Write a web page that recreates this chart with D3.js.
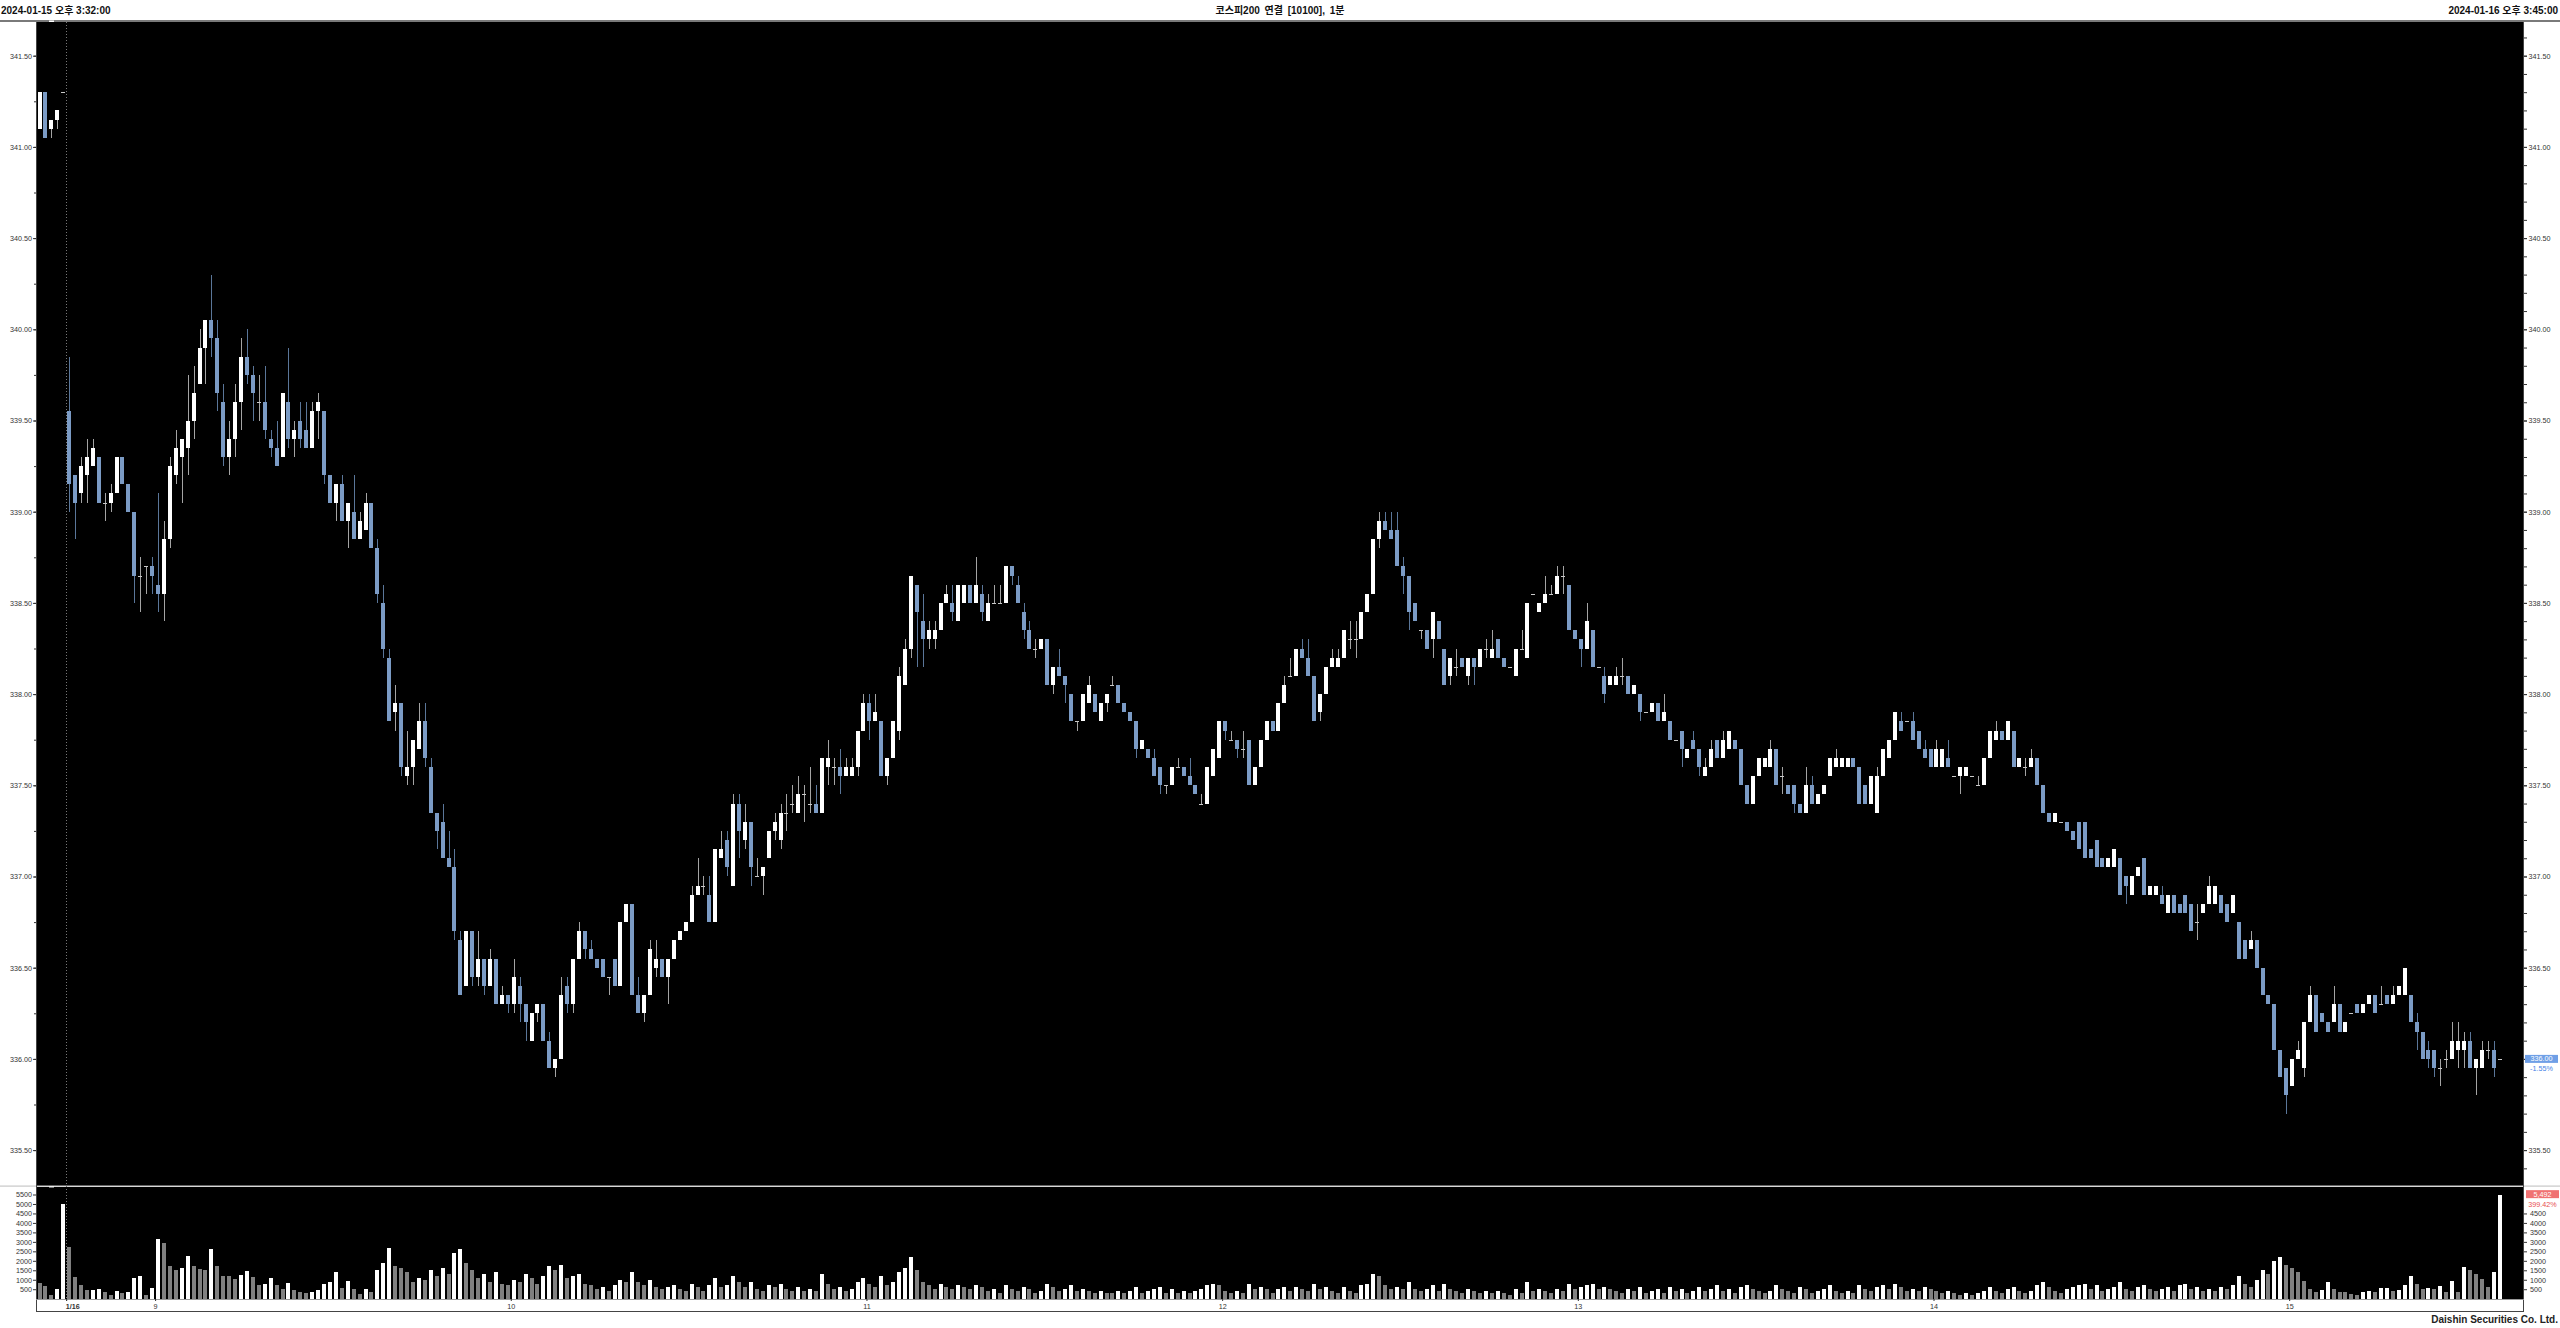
<!DOCTYPE html>
<html><head><meta charset="utf-8">
<script src="https://cdn.jsdelivr.net/npm/d3@7"></script>
<style>html,body{margin:0;padding:0;background:#fff;overflow:hidden}svg{display:block}</style>
</head><body>
<svg id="c" width="2560" height="1328"></svg>
<script>
// ---------------- DATA ----------------
// bars 0-4: 2024-01-15 15:3x ; bars 5.. : 2024-01-16 08:45 onward (1-minute)
const opens = [
341.1,341.3,341.1,341.15,341.3,
339.55,339.2,339.1,339.2,339.25,339.3,339.05,339.05,339.1,339.3,
339.15,339,338.65,338.7,338.7,338.6,338.55,338.85,339.2,339.3,
339.35,339.5,339.7,339.9,340.05,339.95,339.6,339.3,339.4,339.6,
339.85,339.75,339.6,339.6,339.4,339.35,339.3,339.6,339.4,339.5,
339.45,339.35,339.55,339.55,339.2,339.05,339.15,338.95,339,338.85,
338.9,339.05,338.8,338.5,338.2,337.9,337.95,337.55,337.6,337.7,
337.85,337.6,337.35,337.3,337.1,337.05,336.65,336.4,336.7,336.45,
336.55,336.4,336.55,336.3,336.35,336.3,336.4,336.3,336.1,336.25,
336.3,336.1,335.95,336,336.4,336.3,336.55,336.7,336.6,336.55,
336.55,336.45,336.55,336.4,336.75,336.85,336.35,336.25,336.35,336.5,
336.55,336.45,336.55,336.65,336.7,336.75,336.9,336.95,336.9,336.75,
337.1,337.2,336.95,337.4,337.2,337.3,337,337,337.1,337.25,
337.2,337.35,337.4,337.35,337.45,337.4,337.4,337.35,337.6,337.6,
337.6,337.55,337.55,337.6,337.8,337.95,337.85,337.85,337.55,337.65,
337.8,338.05,338.25,338.6,338.4,338.3,338.3,338.35,338.5,338.5,
338.4,338.5,338.6,338.5,338.55,338.4,338.5,338.5,338.5,338.7,
338.6,338.45,338.35,338.25,338.25,338.3,338.05,338.15,338.1,338,
337.85,337.85,337.95,338,337.85,337.95,338.05,338.05,337.95,337.9,
337.85,337.7,337.7,337.65,337.6,337.5,337.5,337.6,337.6,337.55,
337.5,337.4,337.4,337.55,337.65,337.85,337.75,337.75,337.7,337.75,
337.5,337.6,337.75,337.85,337.8,337.95,338.1,338.1,338.25,338.2,
338.1,337.9,338,338.15,338.15,338.2,338.3,338.3,338.3,338.45,
338.55,338.85,338.95,338.9,338.9,338.7,338.65,338.5,338.35,338.35,
338.3,338.4,338.25,338.1,338.15,338.2,338.1,338.2,338.15,338.25,
338.2,338.3,338.2,338.15,338.1,338.25,338.2,338.55,338.45,338.5,
338.55,338.55,338.65,338.6,338.35,338.3,338.25,338.35,338.15,338.1,
338.05,338.05,338.1,338.1,338,338,337.9,337.9,337.95,337.85,
337.85,337.75,337.8,337.65,337.75,337.7,337.55,337.6,337.75,337.65,
337.7,337.75,337.7,337.5,337.4,337.55,337.6,337.6,337.7,337.55,
337.5,337.5,337.4,337.35,337.5,337.4,337.45,337.55,337.6,337.6,
337.6,337.65,337.6,337.5,337.4,337.35,337.55,337.65,337.75,337.85,
337.85,337.85,337.8,337.7,337.7,337.6,337.6,337.65,337.55,337.55,
337.55,337.55,337.5,337.5,337.65,337.75,337.8,337.75,337.8,337.6,
337.6,337.6,337.65,337.5,337.35,337.3,337.3,337.3,337.25,337.3,
337.3,337.15,337.2,337.1,337.05,337.05,337.1,337,336.9,337,
337.1,336.9,336.9,336.9,336.8,336.9,336.85,336.9,336.85,336.75,
336.8,336.85,336.85,336.9,336.85,336.8,336.75,336.65,336.6,336.65,
336.5,336.35,336.3,336.05,335.95,335.85,336,335.95,336.2,336.35,
336.25,336.2,336.2,336.3,336.15,336.25,336.3,336.25,336.3,336.35,
336.3,336.35,336.3,336.35,336.35,336.35,336.2,336.15,336.05,336.05,
335.95,336,336,336.05,336.05,336.1,335.95,335.95,336.05,336.05,336
];
const highs = [
341.3,341.3,341.15,341.2,341.3,
339.85,339.2,339.3,339.4,339.4,339.3,339.1,339.15,339.3,339.3,
339.15,339,338.75,338.7,338.75,339.1,338.95,339.3,339.45,339.4,
339.75,339.8,340,340.05,340.3,340.05,339.7,339.5,339.7,339.95,
340,339.8,339.75,339.8,339.45,339.5,339.65,339.9,339.5,339.6,
339.6,339.6,339.65,339.55,339.2,339.15,339.2,339.05,339.2,339,
339.1,339.05,338.85,338.6,338.25,338.05,337.95,337.8,337.75,337.95,
337.95,337.65,337.35,337.4,337.25,337.15,336.7,336.7,336.7,336.7,
336.55,336.6,336.55,336.4,336.35,336.55,336.45,336.3,336.25,336.3,
336.3,336.15,336,336.45,336.45,336.55,336.75,336.7,336.65,336.55,
336.55,336.45,336.55,336.75,336.85,336.85,336.45,336.35,336.65,336.65,
336.55,336.55,336.65,336.7,336.75,336.95,337.1,337,337,337.15,
337.25,337.25,337.45,337.45,337.4,337.3,337.1,337.05,337.25,337.35,
337.4,337.45,337.5,337.55,337.5,337.6,337.5,337.65,337.75,337.65,
337.7,337.65,337.65,337.8,338,338,338,337.85,337.65,337.85,
338.15,338.3,338.65,338.6,338.55,338.4,338.4,338.5,338.6,338.6,
338.6,338.6,338.6,338.75,338.6,338.55,338.6,338.6,338.7,338.7,
338.65,338.5,338.4,338.3,338.3,338.3,338.15,338.25,338.1,338,
337.85,338,338.1,338,337.95,338,338.1,338.05,337.95,337.9,
337.85,337.75,337.7,337.7,337.6,337.5,337.6,337.65,337.6,337.65,
337.5,337.45,337.6,337.7,337.85,337.85,337.8,337.75,337.8,337.75,
337.6,337.75,337.85,337.85,337.95,338.1,338.2,338.25,338.3,338.3,
338.1,338,338.15,338.25,338.25,338.35,338.4,338.4,338.45,338.55,
338.85,339,339,339,339,338.75,338.65,338.5,338.35,338.35,
338.45,338.4,338.25,338.2,338.25,338.2,338.2,338.2,338.25,338.3,
338.35,338.3,338.2,338.15,338.25,338.35,338.5,338.55,338.5,338.65,
338.6,338.7,338.7,338.6,338.35,338.3,338.5,338.35,338.15,338.15,
338.1,338.15,338.2,338.1,338.05,338,337.9,337.95,337.95,338,
337.85,337.75,337.8,337.7,337.8,337.7,337.65,337.75,337.75,337.8,
337.8,337.75,337.7,337.5,337.55,337.65,337.65,337.75,337.7,337.6,
337.5,337.5,337.4,337.6,337.55,337.45,337.5,337.65,337.7,337.65,
337.65,337.65,337.6,337.5,337.55,337.6,337.7,337.75,337.9,337.9,
337.85,337.9,337.8,337.75,337.7,337.75,337.7,337.75,337.55,337.6,
337.6,337.55,337.55,337.65,337.8,337.85,337.8,337.85,337.8,337.65,
337.65,337.7,337.65,337.5,337.35,337.35,337.3,337.3,337.25,337.3,
337.3,337.15,337.2,337.1,337.1,337.15,337.1,337,337,337.05,
337.1,336.95,336.95,336.95,336.9,336.9,336.85,336.9,336.85,336.85,
336.85,337,336.95,336.9,336.85,336.9,336.75,336.65,336.7,336.65,
336.5,336.35,336.3,336.05,335.95,336,336.1,336.2,336.4,336.35,
336.25,336.2,336.4,336.3,336.2,336.25,336.3,336.3,336.35,336.35,
336.4,336.35,336.4,336.4,336.5,336.35,336.25,336.15,336.1,336.05,
336,336.05,336.2,336.2,336.15,336.15,336,336.1,336.1,336.1,336
];
const lows = [
341.1,341.05,341.05,341.1,341.3,
339,338.85,339.05,339.05,339.25,339.05,338.95,339,339.1,339.15,
339,338.5,338.45,338.55,338.55,338.45,338.4,338.8,339.15,339.05,
339.2,339.4,339.7,339.7,339.85,339.55,339.25,339.2,339.3,339.45,
339.7,339.5,339.5,339.4,339.3,339.25,339.3,339.35,339.3,339.35,
339.35,339.35,339.4,339.15,339.05,338.95,338.95,338.8,338.85,338.85,
338.9,338.8,338.5,338.2,337.85,337.8,337.55,337.5,337.5,337.7,
337.6,337.35,337.15,337.1,337.05,336.65,336.35,336.4,336.4,336.4,
336.35,336.4,336.3,336.3,336.25,336.25,336.2,336.1,336.1,336.2,
336.1,335.95,335.9,336,336.25,336.25,336.55,336.55,336.55,336.5,
336.45,336.35,336.4,336.4,336.75,336.35,336.25,336.2,336.35,336.45,
336.45,336.3,336.55,336.65,336.7,336.75,336.9,336.9,336.75,336.75,
337.1,337,336.95,337.1,337.15,336.95,337,336.9,337.1,337.2,
337.15,337.25,337.35,337.35,337.3,337.35,337.35,337.35,337.5,337.5,
337.45,337.55,337.55,337.55,337.8,337.75,337.85,337.55,337.5,337.65,
337.75,338.05,338.2,338.15,338.15,338.25,338.25,338.35,338.5,338.4,
338.4,338.5,338.5,338.5,338.4,338.4,338.5,338.5,338.5,338.6,
338.5,338.3,338.25,338.2,338.25,338.05,338,338.1,337.95,337.85,
337.8,337.85,337.95,337.9,337.85,337.9,338.05,337.95,337.9,337.85,
337.65,337.7,337.65,337.55,337.45,337.45,337.5,337.6,337.55,337.5,
337.45,337.4,337.4,337.55,337.65,337.75,337.75,337.65,337.65,337.5,
337.5,337.6,337.75,337.8,337.8,337.95,338.1,338.1,338.2,338.1,
337.85,337.85,338,338.15,338.15,338.2,338.25,338.2,338.3,338.45,
338.55,338.8,338.9,338.85,338.7,338.55,338.35,338.4,338.3,338.25,
338.2,338.3,338.05,338.05,338.1,338.15,338.05,338.05,338.15,338.2,
338.2,338.2,338.15,338.15,338.1,338.25,338.2,338.55,338.45,338.5,
338.55,338.55,338.55,338.35,338.3,338.15,338.25,338.15,338.15,337.95,
338.05,338.05,338.05,338,338,337.85,337.9,337.9,337.85,337.85,
337.75,337.75,337.6,337.65,337.7,337.55,337.55,337.6,337.65,337.65,
337.7,337.7,337.5,337.4,337.4,337.55,337.6,337.6,337.5,337.45,
337.45,337.35,337.35,337.35,337.4,337.4,337.45,337.55,337.6,337.6,
337.6,337.6,337.4,337.4,337.4,337.35,337.55,337.65,337.75,337.8,
337.85,337.75,337.7,337.65,337.6,337.6,337.6,337.6,337.55,337.45,
337.55,337.55,337.5,337.5,337.65,337.75,337.75,337.75,337.6,337.6,
337.55,337.6,337.5,337.35,337.3,337.3,337.3,337.25,337.2,337.15,
337.1,337.1,337.05,337.05,337.05,337.05,336.9,336.85,336.9,337,
336.9,336.9,336.9,336.85,336.8,336.8,336.8,336.8,336.7,336.65,
336.8,336.85,336.85,336.8,336.75,336.8,336.55,336.55,336.6,336.5,
336.35,336.3,336.05,335.9,335.7,335.85,336,335.9,336.2,336.15,
336.2,336.15,336.2,336.15,336.15,336.25,336.25,336.25,336.3,336.25,
336.3,336.3,336.3,336.35,336.35,336.2,336.05,336,335.95,335.9,
335.85,335.95,336,335.95,335.95,335.95,335.8,335.95,336,335.9,336
];
const closes = [
341.3,341.05,341.15,341.2,341.3,
339.15,339.05,339.25,339.3,339.35,339.05,339.05,339.1,339.3,339.15,
339,338.65,338.65,338.7,338.65,338.55,338.85,339.25,339.35,339.4,
339.5,339.65,339.9,340.05,339.95,339.65,339.3,339.4,339.6,339.85,
339.75,339.65,339.6,339.45,339.35,339.25,339.65,339.4,339.45,339.4,
339.35,339.55,339.6,339.2,339.05,339.15,338.95,339.05,338.85,338.95,
339.05,338.8,338.55,338.25,337.85,337.95,337.6,337.6,337.75,337.85,
337.65,337.35,337.25,337.1,337.05,336.7,336.35,336.7,336.45,336.55,
336.4,336.55,336.3,336.35,336.3,336.45,336.3,336.2,336.25,336.3,
336.1,335.95,336,336.35,336.3,336.55,336.7,336.6,336.55,336.5,
336.45,336.45,336.4,336.75,336.85,336.35,336.25,336.35,336.6,336.55,
336.45,336.55,336.65,336.7,336.75,336.9,336.95,336.95,336.75,337.15,
337.15,337.05,337.4,337.25,337.3,337.05,337,337.05,337.25,337.3,
337.35,337.35,337.4,337.45,337.45,337.4,337.35,337.65,337.65,337.6,
337.55,337.6,337.6,337.8,337.95,337.85,337.9,337.55,337.65,337.85,
338.1,338.25,338.65,338.45,338.3,338.35,338.35,338.5,338.55,338.45,
338.6,338.6,338.5,338.6,338.45,338.5,338.5,338.5,338.7,338.65,
338.5,338.35,338.25,338.25,338.3,338.05,338.15,338.1,338.05,337.85,
337.85,338,338.05,337.9,337.95,338,338.05,337.95,337.9,337.85,
337.7,337.75,337.65,337.55,337.5,337.5,337.6,337.6,337.55,337.5,
337.45,337.4,337.6,337.7,337.85,337.8,337.75,337.7,337.7,337.5,
337.6,337.75,337.85,337.8,337.95,338.05,338.1,338.25,338.2,338.1,
337.85,338,338.15,338.2,338.2,338.35,338.3,338.3,338.45,338.55,
338.85,338.95,338.9,338.85,338.7,338.65,338.45,338.4,338.35,338.25,
338.45,338.3,338.05,338.2,338.15,338.15,338.2,338.15,338.25,338.25,
338.25,338.2,338.15,338.15,338.25,338.25,338.5,338.55,338.5,338.55,
338.55,338.65,338.65,338.35,338.3,338.25,338.4,338.15,338.15,338,
338.1,338.1,338.1,338,338.05,337.9,337.9,337.95,337.85,337.9,
337.75,337.75,337.7,337.7,337.7,337.6,337.6,337.7,337.65,337.75,
337.8,337.7,337.5,337.4,337.55,337.65,337.65,337.7,337.5,337.55,
337.45,337.4,337.35,337.5,337.4,337.45,337.5,337.65,337.65,337.65,
337.65,337.6,337.4,337.4,337.55,337.55,337.7,337.75,337.9,337.8,
337.85,337.75,337.7,337.65,337.6,337.7,337.7,337.6,337.55,337.6,
337.6,337.55,337.5,337.65,337.8,337.8,337.75,337.85,337.6,337.65,
337.6,337.65,337.5,337.35,337.3,337.35,337.3,337.25,337.2,337.15,
337.1,337.1,337.05,337.05,337.1,337.15,336.9,336.95,337,337.05,
336.9,336.95,336.95,336.85,336.9,336.8,336.8,336.8,336.7,336.75,
336.85,336.95,336.95,336.8,336.75,336.9,336.55,336.55,336.65,336.5,
336.35,336.3,336.05,335.9,335.8,336,336.05,336.2,336.35,336.15,
336.2,336.15,336.3,336.15,336.2,336.25,336.25,336.3,336.35,336.25,
336.3,336.3,336.35,336.4,336.5,336.2,336.15,336,336,335.95,
335.95,336,336.1,336.1,336.1,335.95,336,336.05,336.05,335.95,336
];
const volumes = [
850,650,180,500,5000,
2750,1120,720,460,470,500,360,170,420,300,340,1080,1180,220,580,
3150,2950,1700,1500,1620,2280,1700,1550,1520,2600,1750,1180,1180,1040,1230,1440,1150,700,800,1100,720,500,830,470,350,280,330,440,780,870,1420,550,950,500,270,520,360,1500,1880,2650,1700,1600,
1400,900,1100,1000,1500,1200,1600,1300,2400,2600,1900,1500,1100,1300,900,1400,800,700,1000,900,1300,1100,800,1200,
1700,1500,1800,1100,1200,1300,800,700,500,600,400,700,1000,900,1400,900,700,1000,600,500,
600,700,500,400,800,600,400,700,1100,600,700,1200,900,600,900,500,400,700,600,800,
500,400,600,400,500,400,1300,800,500,600,400,500,900,1100,800,600,1200,700,900,1400,
1600,2200,1500,900,700,500,800,600,500,700,600,500,700,600,400,500,300,700,500,400,
600,500,300,400,800,600,400,500,700,400,500,400,300,400,300,300,400,300,400,600,
300,400,500,600,300,500,300,400,300,400,500,700,800,700,400,300,400,300,800,500,
600,500,300,500,600,400,600,500,400,800,500,600,400,300,600,400,300,700,800,1300,
1200,700,500,600,500,900,500,400,500,700,400,800,500,400,300,500,400,300,400,300,
400,300,200,500,300,900,400,500,400,300,500,400,800,500,600,700,800,500,600,500,
400,300,500,400,600,300,400,500,300,600,400,500,300,400,600,400,500,700,400,500,
300,600,700,500,400,300,400,700,500,400,300,600,500,300,400,500,700,400,300,400,
300,700,500,400,600,700,500,800,600,400,500,400,600,500,400,300,400,300,200,300,
200,300,400,600,400,300,500,600,400,300,400,700,900,600,400,300,500,600,700,800,
500,700,400,500,600,900,500,400,600,700,500,400,500,600,400,700,800,500,600,400,
500,400,600,500,700,1200,800,600,1000,1500,1300,2000,2200,1800,1600,1400,
950,500,330,480,870,500,350,330,260,200,370,420,350,560,580,400,440,730,1180,770,500,580,530,650,350,950,380,1650,1500,1320,1050,620,1420,5492
];
const priceTicks = [335.5,336,336.5,337,337.5,338,338.5,339,339.5,340,340.5,341,341.5];
const volumeTicks = [500,1000,1500,2000,2500,3000,3500,4000,4500,5000,5500];
const volumeTicksRight = [500,1000,1500,2000,2500,3000,3500,4000,4500];
const timeTickLabels = ['1/16','9','10','11','12','13','14','15'];
const timeTickBars = [5,20,80,140,200,260,320,380];
const headerLeft = '2024-01-15 오후 3:32:00';
const headerTitle = '코스피200 연결 [10100], 1분';
const headerRight = '2024-01-16 오후 3:45:00';
const lastPriceText = '336.00', lastPriceChange = '-1.55%';
const lastVolumeText = '5,492', lastVolumeChange = '399.42%';

// ---------------- CHART ----------------
const N = closes.length;
if (opens.length!==N||highs.length!==N||lows.length!==N||volumes.length!==N) {
  throw new Error('length mismatch '+[opens.length,highs.length,lows.length,closes.length,volumes.length].join(','));
}
const svg = d3.select('#c');
const FONT = '"Liberation Sans", Arial, "Noto Sans CJK KR", sans-serif';
const L = 36, R = 2523, PT = 22, PB = 1185, VT = 1187, VB = 1299, AB = 1311;
const step = 5.928;
const x = d3.scaleLinear().domain([-0.5, N - 0.5]).range([36.54, 36.54 + N * step]);
const y = d3.scaleLinear().domain([335.5, 341.5]).range([1150.1, 55.7]);
const yv = d3.scaleLinear().domain([0, 5500]).range([1298.7, 1194.5]);

svg.append('rect').attr('width', 2560).attr('height', 1328).attr('fill', '#fff');
// header
const hdr = svg.append('g').style('font-family', FONT).style('font-size', '10px').style('font-weight', 'bold').attr('fill', '#111');
hdr.append('text').attr('x', 1).attr('y', 14).text(headerLeft);
hdr.append('text').attr('x', 1280).attr('y', 14).attr('text-anchor', 'middle').style('word-spacing', '2px').text(headerTitle);
hdr.append('text').attr('x', 2558).attr('y', 14).attr('text-anchor', 'end').text(headerRight);

// panels
svg.append('rect').attr('x', 0).attr('y', 20).attr('width', 2560).attr('height', 2).attr('fill', '#7a7a7a');
svg.append('rect').attr('x', L).attr('y', PT).attr('width', R - L).attr('height', PB - PT + 1).attr('fill', '#000');
svg.append('rect').attr('x', 0).attr('y', 1185.5).attr('width', 2560).attr('height', 1.2).attr('fill', '#c8c8c8');
svg.append('rect').attr('x', L).attr('y', VT).attr('width', R - L).attr('height', VB - VT).attr('fill', '#000');

// day separator
svg.append('line').attr('x1', Math.round(x(4.5)) + 0.5).attr('x2', Math.round(x(4.5)) + 0.5)
  .attr('y1', PT).attr('y2', VB + 2).attr('stroke', '#777').attr('stroke-dasharray', '1,2');

// candles
const cg = svg.append('g').attr('shape-rendering', 'crispEdges');
const idx = d3.range(N);
const dir = i => closes[i] > opens[i] ? 1 : (closes[i] < opens[i] ? -1 : 0);
const cx = i => Math.round(x(i));
cg.selectAll('rect.wick').data(idx).join('rect').attr('class', 'wick')
  .attr('x', i => cx(i)).attr('width', 1)
  .attr('y', i => Math.round(y(Math.max(highs[i], opens[i], closes[i]))))
  .attr('height', i => Math.max(1, Math.round(y(Math.min(lows[i], opens[i], closes[i]))) - Math.round(y(Math.max(highs[i], opens[i], closes[i])))))
  .attr('fill', i => dir(i) < 0 ? '#5a7699' : '#a4a4a4');
cg.selectAll('rect.body').data(idx).join('rect').attr('class', 'body')
  .attr('x', i => cx(i) - 2).attr('width', 4)
  .attr('y', i => Math.round(y(Math.max(opens[i], closes[i]))))
  .attr('height', i => Math.max(1, Math.round(y(Math.min(opens[i], closes[i]))) - Math.round(y(Math.max(opens[i], closes[i])))))
  .attr('fill', i => dir(i) > 0 ? '#ffffff' : (dir(i) < 0 ? '#7b9bc5' : '#c8c8c8'));

// volume
const vg = svg.append('g').attr('shape-rendering', 'crispEdges');
vg.selectAll('rect').data(idx).join('rect')
  .attr('x', i => cx(i) - 2).attr('width', 4)
  .attr('y', i => Math.round(yv(volumes[i])))
  .attr('height', i => Math.round(yv(0)) - Math.round(yv(volumes[i])))
  .attr('fill', i => (i > 0 && volumes[i] > volumes[i - 1]) ? '#ffffff' : '#808080');

// markers on selected bar
svg.append('rect').attr('x', cx(2) - 2).attr('y', 20.5).attr('width', 5).attr('height', 1.5).attr('fill', '#fff');
svg.append('rect').attr('x', cx(2) - 2).attr('y', 1186).attr('width', 5).attr('height', 1.5).attr('fill', '#eee');

// frame lines
svg.append('line').attr('x1', L + 0.5).attr('x2', L + 0.5).attr('y1', PT).attr('y2', AB).attr('stroke', '#444');
svg.append('line').attr('x1', R + 0.5).attr('x2', R + 0.5).attr('y1', PT).attr('y2', AB).attr('stroke', '#444');
svg.append('line').attr('x1', L).attr('x2', R + 1).attr('y1', AB + 0.5).attr('y2', AB + 0.5).attr('stroke', '#444');
svg.append('line').attr('x1', L).attr('x2', R + 1).attr('y1', VB + 0.5).attr('y2', VB + 0.5).attr('stroke', '#999');

function styleAxis(g, size) {
  g.select('.domain').remove();
  g.attr('font-family', null).attr('font-size', null);
  g.selectAll('.tick line').attr('stroke', '#333');
  g.selectAll('.tick text').attr('fill', '#333').style('font-size', size + 'px').style('font-family', FONT);
}
const inPrice = v => y(v) >= PT + 1 && y(v) <= PB - 1;
const minorLeft = d3.range(13341, 13668, 1).map(k => k * 0.025).filter(v => Math.abs(v * 4 - Math.round(v * 4)) < 1e-6 && inPrice(v));
const minorRight = d3.range(3353, 3418, 1).map(k => k / 10).filter(inPrice);

svg.append('g').attr('transform', `translate(${L},0)`)
  .call(d3.axisLeft(y).tickValues(minorLeft).tickSize(2).tickFormat(''))
  .call(g => styleAxis(g, 7));
svg.append('g').attr('transform', `translate(${L},0)`)
  .call(d3.axisLeft(y).tickValues(priceTicks).tickFormat(d3.format('.2f')).tickSize(3).tickPadding(1))
  .call(g => styleAxis(g, 7.2));
svg.append('g').attr('transform', `translate(${R + 1},0)`)
  .call(d3.axisRight(y).tickValues(minorRight).tickSize(3).tickFormat(''))
  .call(g => styleAxis(g, 7));
svg.append('g').attr('transform', `translate(${R + 1},0)`)
  .call(d3.axisRight(y).tickValues(priceTicks).tickFormat(d3.format('.2f')).tickSize(3).tickPadding(1.5))
  .call(g => styleAxis(g, 7.2));

svg.append('g').attr('transform', `translate(${L},0)`)
  .call(d3.axisLeft(yv).tickValues(volumeTicks).tickFormat(d3.format('d')).tickSize(3).tickPadding(1))
  .call(g => styleAxis(g, 7.2));
svg.append('g').attr('transform', `translate(${R + 1},0)`)
  .call(d3.axisRight(yv).tickValues(volumeTicksRight).tickFormat(d3.format('d')).tickSize(3).tickPadding(3))
  .call(g => styleAxis(g, 7.2));

// time axis
const xa = svg.append('g').attr('transform', `translate(0,${VB})`)
  .call(d3.axisBottom(x).tickValues(timeTickBars.map(b => b - 0.5)).tickFormat((d, k) => timeTickLabels[k]).tickSize(2).tickPadding(3))
  .call(g => styleAxis(g, 7.2));
xa.selectAll('.tick text').filter((d, k) => k === 0).attr('text-anchor', 'start').attr('dx', -1).style('font-weight', 'bold');

// last price / volume badges
const lastC = closes[N - 1];
svg.append('rect').attr('x', 2525).attr('y', y(lastC) - 4).attr('width', 33).attr('height', 8).attr('fill', '#6f9fe6');
svg.append('text').attr('x', 2541.5).attr('y', y(lastC)).attr('dy', '0.35em').attr('text-anchor', 'middle')
  .style('font-family', FONT).style('font-size', '7.2px').attr('fill', '#fff').text(lastPriceText);
svg.append('text').attr('x', 2541.5).attr('y', y(lastC) + 10).attr('dy', '0.35em').attr('text-anchor', 'middle')
  .style('font-family', FONT).style('font-size', '7.2px').attr('fill', '#3f7fe6').text(lastPriceChange);

const lastV = volumes[N - 1];
svg.append('rect').attr('x', 2526).attr('y', yv(lastV) - 4.5).attr('width', 33).attr('height', 8).attr('fill', '#f07272');
svg.append('text').attr('x', 2542.5).attr('y', yv(lastV) - 0.5).attr('dy', '0.35em').attr('text-anchor', 'middle')
  .style('font-family', FONT).style('font-size', '7.2px').attr('fill', '#fff').text(lastVolumeText);
svg.append('text').attr('x', 2542.5).attr('y', yv(lastV) + 9.5).attr('dy', '0.35em').attr('text-anchor', 'middle')
  .style('font-family', FONT).style('font-size', '7.2px').attr('fill', '#e84f4f').text(lastVolumeChange);

// footer
svg.append('text').attr('x', 2558).attr('y', 1323).attr('text-anchor', 'end')
  .style('font-family', FONT).style('font-size', '10px').style('font-weight', 'bold').attr('fill', '#222')
  .text('Daishin Securities Co. Ltd.');
</script>
</body></html>
